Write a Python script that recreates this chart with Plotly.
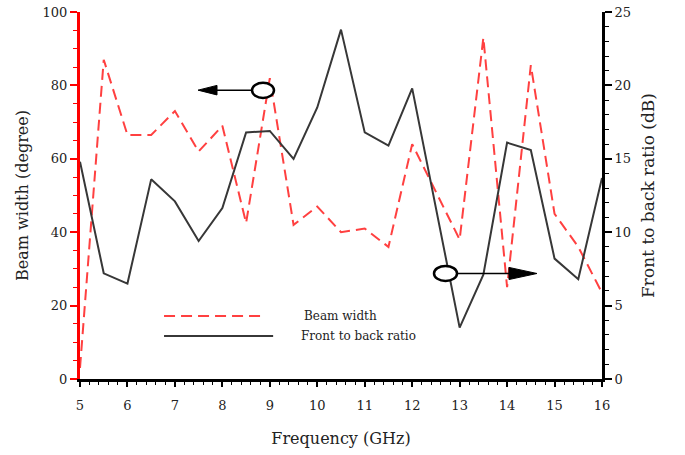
import plotly.graph_objects as go

# Measured antenna performance versus frequency
freq_ghz = [5, 5.5, 6, 6.5, 7, 7.5, 8, 8.5, 9, 9.5, 10, 10.5, 11, 11.5,
            12, 12.5, 13, 13.5, 14, 14.5, 15, 15.5, 16]
beam_width_deg = [3, 87, 66.5, 66.5, 73, 62, 69, 42.5, 82, 42, 47, 40, 41, 36,
                  64, 51, 38, 93, 25, 85.5, 45, 36, 23.5]
front_to_back_db = [14.8, 7.2, 6.5, 13.6, 12.1, 9.4, 11.65, 16.8, 16.9, 15.0,
                    18.5, 23.8, 16.8, 15.9, 19.8, 11.6, 3.5, 7.1, 16.1, 15.6,
                    8.2, 6.8, 13.7]

x_ticks = [5, 6, 7, 8, 9, 10, 11, 12, 13, 14, 15, 16]
left_ticks = [0, 20, 40, 60, 80, 100]
right_ticks = [0, 5, 10, 15, 20, 25]

FONT = "DejaVu Serif"
RED_LINE = "rgb(255,64,64)"
DARK_LINE = "rgb(55,55,55)"

fig = go.Figure()
fig.add_trace(go.Scatter(
    x=freq_ghz, y=beam_width_deg, mode="lines", name="Beam width",
    line=dict(color=RED_LINE, width=2, dash="11px,6px"), yaxis="y",
    showlegend=False))
fig.add_trace(go.Scatter(
    x=freq_ghz, y=front_to_back_db, mode="lines", name="Front to back ratio",
    line=dict(color=DARK_LINE, width=2), yaxis="y2", showlegend=False))

tickfont = dict(family=FONT, size=13, color="#222")
titlefont = dict(family=FONT, size=16, color="#222")

fig.update_layout(
    width=685, height=455,
    margin=dict(l=80, r=83, t=12, b=76),
    paper_bgcolor="white", plot_bgcolor="white",
    xaxis=dict(
        range=[5, 16], tickvals=x_ticks, ticks="outside", ticklen=5,
        tickwidth=1.5, tickcolor="black", showline=True, linecolor="black",
        linewidth=3, showgrid=False, zeroline=False, tickfont=tickfont,
        ticklabelstandoff=7, automargin=False,
        minor=dict(dtick=0.2, ticks="outside", ticklen=3, tickcolor="black",
                   tickwidth=1.2, showgrid=False),
        title=dict(text="Frequency (GHz)", font=titlefont, standoff=22),
    ),
    xaxis2=dict(
        range=[5, 16], overlaying="x", side="top", anchor="y",
        tickvals=x_ticks, ticks="inside", ticklen=5, tickwidth=1.5,
        tickcolor="black", showticklabels=False, showline=True,
        linecolor="black", linewidth=3, showgrid=False, zeroline=False,
        automargin=False,
        minor=dict(dtick=0.2, ticks="inside", ticklen=3, tickcolor="black",
                   tickwidth=1.2, showgrid=False),
    ),
    yaxis=dict(
        range=[0, 100], tickvals=left_ticks, ticks="outside", ticklen=7,
        tickwidth=1.5, tickcolor="red", showline=True, linecolor="red",
        linewidth=3, showgrid=False, zeroline=False, tickfont=tickfont,
        automargin=False,
        minor=dict(dtick=5, ticks="outside", ticklen=4, tickcolor="red",
                   tickwidth=1.2, showgrid=False),
        title=dict(text="Beam width (degree)", font=titlefont, standoff=10),
    ),
    yaxis2=dict(
        range=[0, 25], tickvals=right_ticks, overlaying="y", side="right",
        anchor="x", ticks="outside", ticklen=7, tickwidth=1.5,
        tickcolor="black", showline=True, linecolor="black", linewidth=3,
        showgrid=False, zeroline=False, tickfont=tickfont, automargin=False,
        minor=dict(dtick=1, ticks="outside", ticklen=4, tickcolor="black",
                   tickwidth=1.2, showgrid=False),
        title=dict(text="Front to back ratio (dB)",
                   font=dict(family=FONT, size=17, color="#222"), standoff=12),
    ),
)

# Ellipse-and-arrow markers showing which axis each curve belongs to
shapes = []
# beam width -> left axis
shapes.append(dict(type="circle", xref="x", yref="y", x0=8.625, x1=9.088,
                   y0=76.6, y1=80.7, line=dict(color="black", width=2.5),
                   fillcolor="white", layer="above"))
shapes.append(dict(type="line", xref="x", yref="y", x0=8.625, x1=7.85,
                   y0=78.7, y1=78.7, line=dict(color="black", width=1.5)))
shapes.append(dict(type="path", xref="x", yref="y",
                   path="M 7.487 78.7 L 7.887 80.0 L 7.887 77.4 Z",
                   fillcolor="black", line=dict(color="black", width=1)))
# front to back ratio -> right axis
shapes.append(dict(type="circle", xref="x", yref="y", x0=12.46, x1=12.945,
                   y0=26.7, y1=30.8, line=dict(color="black", width=2.5),
                   fillcolor="white", layer="above"))
shapes.append(dict(type="line", xref="x", yref="y", x0=12.945, x1=14.1,
                   y0=28.75, y1=28.75, line=dict(color="black", width=1.5)))
shapes.append(dict(type="path", xref="x", yref="y",
                   path="M 14.63 28.75 L 14.04 30.4 L 14.04 27.1 Z",
                   fillcolor="black", line=dict(color="black", width=1)))

# Hand-placed legend
shapes.append(dict(type="line", xref="paper", yref="paper", x0=0.161, x1=0.349,
                   y0=0.172, y1=0.172,
                   line=dict(color=RED_LINE, width=2, dash="11px,6px")))
shapes.append(dict(type="line", xref="paper", yref="paper", x0=0.161, x1=0.370,
                   y0=0.117, y1=0.117, line=dict(color=DARK_LINE, width=2)))
fig.update_layout(shapes=shapes)

legend_font = dict(family=FONT, size=12, color="#222")
fig.add_annotation(xref="paper", yref="paper", x=0.425, y=0.172,
                   text="Beam width", showarrow=False, xanchor="left",
                   yanchor="middle", font=legend_font)
fig.add_annotation(xref="paper", yref="paper", x=0.420, y=0.117,
                   text="Front to back ratio", showarrow=False, xanchor="left",
                   yanchor="middle", font=legend_font)

fig.write_html("out.html")
